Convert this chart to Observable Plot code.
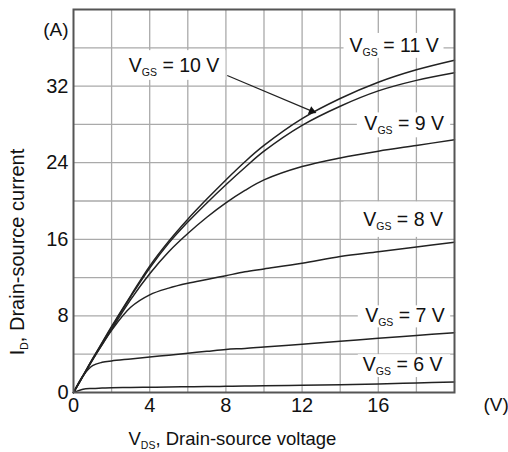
<!DOCTYPE html>
<html><head><meta charset="utf-8">
<script src="https://cdn.jsdelivr.net/npm/d3@7"></script>
<script src="https://cdn.jsdelivr.net/npm/@observablehq/plot@0.6"></script>
<style>html,body{margin:0;padding:0;background:#fff;}</style>
</head><body><div id="chart"></div>
<script>
// Drain-source voltage sample points (V)
const vds  = [0, 0.5, 1, 1.5, 2, 3, 4, 5, 6, 7, 8, 9, 10, 12, 14, 16, 18, 20];
// Drain current (A) for each gate-source voltage
const id11 = [0, 1.75, 3.5, 5.2, 6.9, 10.1, 13.2, 15.8, 18.1, 20.2, 22.2, 24.1, 25.8, 28.6, 30.7, 32.4, 33.7, 34.7];
const id10 = [0, 1.75, 3.5, 5.15, 6.8, 10.0, 13.0, 15.6, 17.8, 19.8, 21.7, 23.5, 25.2, 27.9, 29.9, 31.5, 32.6, 33.4];
const id9  = [0, 1.7, 3.4, 5.0, 6.6, 9.7, 12.4, 14.7, 16.6, 18.3, 19.8, 21.1, 22.2, 23.6, 24.5, 25.2, 25.8, 26.4];
const id8  = [0, 1.7, 3.4, 5.0, 6.5, 8.9, 10.2, 10.9, 11.4, 11.8, 12.2, 12.6, 12.9, 13.5, 14.2, 14.7, 15.2, 15.7];
const id7  = [0, 1.75, 2.8, 3.15, 3.3, 3.5, 3.7, 3.9, 4.1, 4.3, 4.5, 4.6, 4.75, 5.05, 5.35, 5.67, 5.95, 6.25];
const id6  = [0, 0.35, 0.42, 0.46, 0.5, 0.52, 0.55, 0.58, 0.6, 0.62, 0.65, 0.68, 0.7, 0.75, 0.82, 0.9, 1.0, 1.1];
const vgsValues = [11, 10, 9, 8, 7, 6];

// axis ticks and grid
const xTicks = [0, 4, 8, 12, 16];
const yTicks = [0, 8, 16, 24, 32];
const xGrid = [2, 4, 6, 8, 10, 12, 14, 16, 18];
const yGrid = [4, 8, 12, 16, 20, 24, 28, 32, 36];

// curve labels ({..} marks a subscript)
const labelText = ["V{GS} = 11 V", "V{GS} = 10 V", "V{GS} = 9 V", "V{GS} = 8 V", "V{GS} = 7 V", "V{GS} = 6 V"];
const labelX = [16.83, 5.28, 17.36, 17.3, 17.4, 17.28];
const labelY = [36.2, 34.15, 28.07, 18.0, 8.0, 2.88];
const boxX1 = [14.2, 2.5, 14.9, 14.2, 14.95, 14.95];
const boxX2 = [19.45, 8.0, 19.8, 19.85, 19.8, 19.8];
const boxY1 = [34.9, 32.6, 26.6, 16.2, 6.75, 1.56];
const boxY2 = [37.5, 35.7, 29.2, 19.9, 9.05, 3.95];

// pointer from the 10 V label to its curve
const arrowFrom = {x: 8.07, y: 33.1};
const arrowHead = {x: 12.51, y: 29.39};
const arrowAngle = 112.6;

const seriesValues = [id11, id10, id9, id8, id7, id6];
const curves = vgsValues.flatMap((g, s) => seriesValues[s].map((v, k) => ({vgs: g, vds: vds[k], id: v})));
const labels = labelText.map((t, i) => ({t, x: labelX[i], y: labelY[i], x1: boxX1[i], x2: boxX2[i], y1: boxY1[i], y2: boxY2[i]}));

const FONT = "'Liberation Sans', Arial, Helvetica, sans-serif";

const plot = Plot.plot({
  width: 508,
  height: 452,
  marginLeft: 73,
  marginRight: 54,
  marginTop: 9,
  marginBottom: 60,
  style: {fontFamily: FONT, fontSize: "20px", color: "#111", background: "#fff", overflow: "visible"},
  x: {domain: [0, 20], ticks: xTicks, tickSize: 0, tickPadding: 5, label: null, tickFormat: d => String(d)},
  y: {domain: [0, 40], ticks: yTicks, tickSize: 0, tickPadding: 5, label: null, tickFormat: d => String(d)},
  marks: [
    Plot.ruleX(xGrid, {stroke: "#aaaaaa", strokeWidth: 1.3}),
    Plot.ruleY(yGrid, {stroke: "#aaaaaa", strokeWidth: 1.3}),
    Plot.rect(labels, {x1: "x1", x2: "x2", y1: "y1", y2: "y2", fill: "#fff"}),
    Plot.line(curves, {x: "vds", y: "id", z: "vgs", curve: "catmull-rom", stroke: "#222", strokeWidth: 1.5}),
    Plot.link([arrowFrom], {x1: "x", y1: "y", x2: () => arrowHead.x, y2: () => arrowHead.y, stroke: "#222", strokeWidth: 1.2}),
    Plot.dot([arrowHead], {x: "x", y: "y", symbol: "triangle", r: 3.2, fill: "#111", stroke: "none", rotate: arrowAngle}),
    Plot.text(labels, {x: "x", y: "y", text: "t", fontSize: 19.5, fill: "#111", textAnchor: "middle", lineAnchor: "middle"}),
    Plot.frame({stroke: "#555", strokeWidth: 2}),
    Plot.text(["(A)"], {frameAnchor: "top-left", text: d => d, textAnchor: "end", lineAnchor: "middle", dx: -5, dy: 20, fontSize: 19, fill: "#111"}),
    Plot.text(["(V)"], {frameAnchor: "bottom-right", text: d => d, textAnchor: "start", lineAnchor: "middle", dx: 29, dy: 12, fontSize: 19, fill: "#111"}),
    Plot.text(["V{DS}, Drain-source voltage"], {frameAnchor: "bottom-left", text: d => d, textAnchor: "start", lineAnchor: "middle", dx: 55, dy: 47, fontSize: 18.5, fill: "#111"}),
    Plot.text(["I{D}, Drain-source current"], {frameAnchor: "left", text: d => d, textAnchor: "middle", lineAnchor: "middle", rotate: -90, dx: -56, dy: 51, fontSize: 20, fill: "#111"})
  ]
});

// render {..} segments as subscripts
d3.select(plot).selectAll("text").each(function() {
  const s = this.textContent;
  if (!s.includes("{")) return;
  const sel = d3.select(this);
  sel.text(null);
  const parts = s.split(/(\{[^}]*\})/).filter(p => p.length);
  let shifted = false;
  for (const p of parts) {
    if (p.startsWith("{")) {
      sel.append("tspan").attr("font-size", "10.5px").attr("dy", "4").text(p.slice(1, -1));
      shifted = true;
    } else {
      const ts = sel.append("tspan").text(p);
      if (shifted) { ts.attr("dy", "-4"); shifted = false; }
    }
  }
});

document.getElementById("chart").appendChild(plot);
</script>
</body></html>
